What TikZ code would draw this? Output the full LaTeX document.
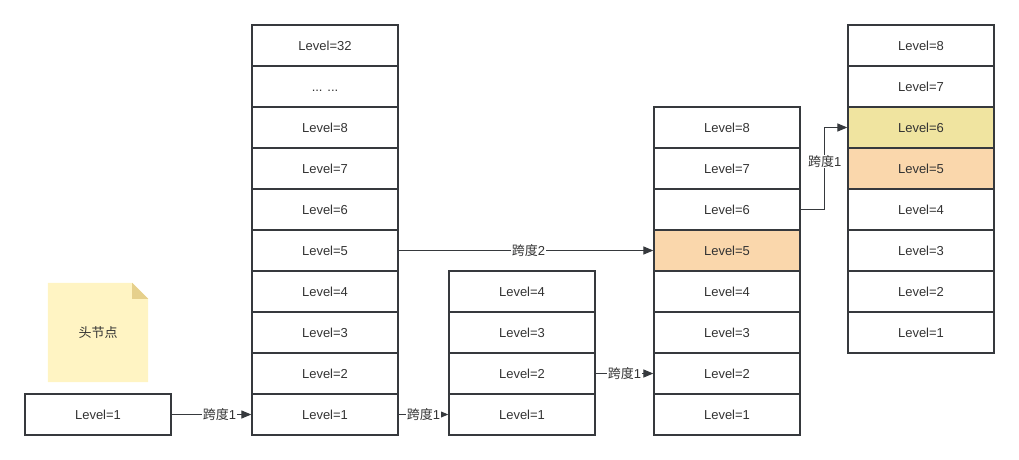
\documentclass[tikz,border=0pt]{standalone}
\usepackage{fontspec}
\setmainfont{Liberation Sans}
\newfontfamily\cjk{Noto Sans CJK SC}
\usetikzlibrary{arrows.meta}
\definecolor{strk}{HTML}{36393D}
\definecolor{txt}{HTML}{333333}
\definecolor{orng}{HTML}{FAD7AC}
\definecolor{khaki}{HTML}{F0E4A0}
\definecolor{notefill}{HTML}{FFF4C3}
\definecolor{notefold}{HTML}{E6D08C}
\newcommand\mydotsrow{... ...}
\tikzset{
  cell/.style={rectangle, draw=strk, line width=1.3pt, minimum width=146pt, minimum height=41pt, inner sep=0pt, text height=10.5pt, text depth=0pt, text=txt, font=\fontsize{13}{15}\selectfont},
  arr/.style={draw=strk, line width=1.2pt, -{Triangle[length=10pt,width=8pt]}},
  lbl/.style={fill=white, inner sep=0.5pt, text=txt, font=\fontsize{13}{15}\selectfont}
}
\begin{document}
\begin{tikzpicture}[x=1pt,y=-1pt]
\useasboundingbox (0,0) rectangle (1019,460);
% head
\node[cell] (a1) at (98,414.5) {Level=1};
% column B
\foreach \t [count=\i from 0] in {Level=32,\mydotsrow,Level=8,Level=7,Level=6,Level=5,Level=4,Level=3,Level=2,Level=1}
  \node[cell] (b\i) at (325,45.5+41*\i) {\t};
% column C
\foreach \t [count=\i from 0] in {Level=4,Level=3,Level=2,Level=1}
  \node[cell] (c\i) at (522,291.5+41*\i) {\t};
% column D
\foreach \t [count=\i from 0] in {Level=8,Level=7,Level=6,Level=5,Level=4,Level=3,Level=2,Level=1}
  \node[cell] (d\i) at (727,127.5+41*\i) {\t};
% column E
\foreach \t [count=\i from 0] in {Level=8,Level=7,Level=6,Level=5,Level=4,Level=3,Level=2,Level=1}
  \node[cell] (e\i) at (921,45.5+41*\i) {\t};
% coloured cells redrawn
\node[cell, fill=orng] at (d3) {Level=5};
\node[cell, fill=khaki] at (e2) {Level=6};
\node[cell, fill=orng] at (e3) {Level=5};
% note
\node[minimum width=100pt, minimum height=99pt, inner sep=0pt] (note) at (98,332.5) {};
\fill[notefill] (note.north west) -- ([xshift=-16pt]note.north east) -- ([yshift=-16pt]note.north east) -- (note.south east) -- (note.south west) -- cycle;
\fill[notefold] ([xshift=-16pt]note.north east) -- ([yshift=-16pt]note.north east) -- ([xshift=-16pt,yshift=-16pt]note.north east) -- cycle;
\node[text=txt, font=\cjk\fontsize{13}{15}\selectfont] at (note) {头节点};
% arrows
\draw[arr] (a1.east) -- node[lbl, pos=0.6] {{\cjk 跨度}1} (b9.west);
\draw[arr] (b9.east) -- node[lbl, pos=0.5] {{\cjk 跨度}1} (c3.west);
\draw[arr] (c2.east) -- node[lbl, pos=0.5] {{\cjk 跨度}1} (d6.west);
\draw[arr] (b5.east) -- node[lbl, pos=0.51] {{\cjk 跨度}2} (d3.west);
\draw[arr] (d2.east) -- ([xshift=24pt]d2.east) |- node[lbl, pos=0.29] {{\cjk 跨度}1} (e2.west);
\end{tikzpicture}
\end{document}
